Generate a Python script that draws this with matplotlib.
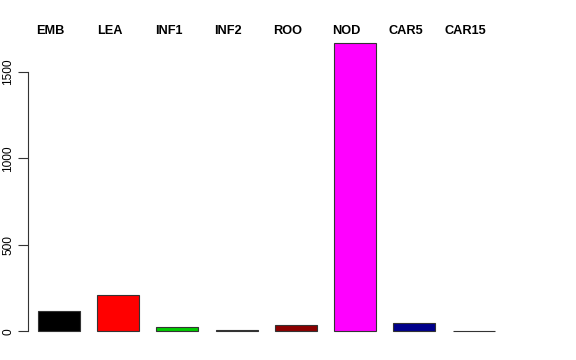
import matplotlib
matplotlib.use('Agg')
from matplotlib import pyplot as plt

tissues = ['EMB', 'LEA', 'INF1', 'INF2', 'ROO', 'NOD', 'CAR5', 'CAR15']
counts = [116, 208, 26, 10, 35, 1668, 46, 3]
colors = ['#000000', '#FF0000', '#00CD00', '#000080', '#8B0000', '#FF00FF', '#00008B', '#BEBEBE']

plt.rcParams['font.family'] = ['Liberation Sans', 'DejaVu Sans']

fig = plt.figure(figsize=(5.76, 3.6), dpi=100)
ax = fig.add_axes([28 / 576, 17 / 360, 484 / 576, 312 / 360])

pos = [0.7 + 1.2 * i for i in range(len(tissues))]
ax.bar(pos, counts, width=0.85, color=colors, edgecolor='#333333', linewidth=0.8)

ax.set_xlim(0.075, 9.875)
ax.set_ylim(-67, 1735)

for s in ['top', 'right', 'bottom']:
	ax.spines[s].set_visible(False)
ax.spines['left'].set_bounds(0, 1500)
ax.spines['left'].set_color('#333333')
ax.set_xticks([])
ax.set_yticks([0, 500, 1000, 1500])
ax.set_yticklabels(['0', '500', '1000', '1500'], rotation=90, va='center', fontsize=8.6)
ax.tick_params(axis='y', length=7, color='#333333', pad=3)

# labels sit a little left of the bar centres, just above the plot
lab_y = 1 - 31 / 360
for x, t in zip(pos, tissues):
	xf = fig.transFigure.inverted().transform(ax.transData.transform((x - 0.17, 0)))[0]
	fig.text(xf, lab_y, t, ha='center', va='center', fontsize=9.2, fontweight='bold')

plt.savefig('out.png', dpi=100)
